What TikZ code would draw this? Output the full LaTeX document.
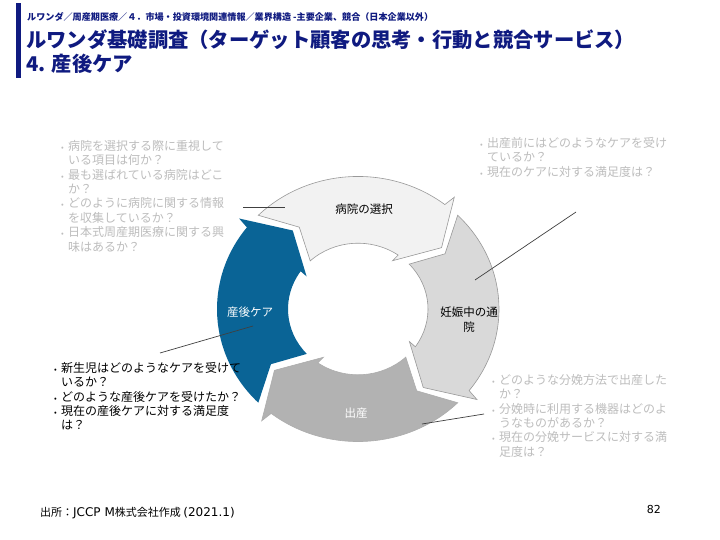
\documentclass[tikz,border=0pt]{standalone}
\usepackage{fontspec}
\setmainfont{Noto Sans CJK JP}
\newfontfamily\jp{Noto Sans CJK JP}
\newfontfamily\lat{DejaVu Sans}
\definecolor{navyt}{HTML}{0F1A80}
\definecolor{lgtxt}{HTML}{BDBDBD}
\definecolor{bluearr}{HTML}{0A6496}
\definecolor{linec}{HTML}{404040}
\newcommand\bl{\makebox[7pt][l]{\fontsize{8}{8}\selectfont •}}
\newcommand\ct{\hspace*{7pt}}
\newcommand\cycarrow[2]{%
  \path[#2] (135+#1:141) arc[start angle=135+#1, end angle=52+#1, radius=141]
    -- (51+#1:153) -- (38+#1:106) -- (56+#1:62) -- (55+#1:70)
    arc[start angle=55+#1, end angle=133+#1, radius=70]
    -- (124+#1:105) -- cycle;}
\tikzset{
  bodytxt/.style={anchor=north west, inner sep=0pt, align=left, font=\jp\fontsize{12}{14.4}\selectfont},
  lbl/.style={inner sep=0pt, align=center, font=\jp\fontsize{11.5}{15}\selectfont},
  conn/.style={draw=linec, line width=0.7pt},
}
\begin{document}
\begin{tikzpicture}[x=1pt,y=-1pt]
\useasboundingbox (0,0) rectangle (720,540);
\fill[white] (0,0) rectangle (720,540);
% header
\fill[navyt] (16,3) rectangle (20.5,78);
\node[anchor=west, inner sep=0pt, text=navyt, font=\jp\bfseries\fontsize{9.1}{10}\selectfont] (hdr) at (27,17)
  {ルワンダ／周産期医療／４．市場・投資環境関連情報／業界構造 -主要企業、競合（日本企業以外）};
\node[anchor=west, inner sep=0pt, text=navyt, font=\jp\bfseries\fontsize{20.3}{22}\selectfont] (title1) at (26,40)
  {ルワンダ基礎調査（ターゲット顧客の思考・行動と競合サービス）};
\node[anchor=west, inner sep=0pt, text=navyt, font=\jp\bfseries\fontsize{20.3}{22}\selectfont] (title2) at (26,64)
  {4. 産後ケア};
% cycle arrows
\begin{scope}[shift={(358,309)}, yscale=-0.94]
  \cycarrow{0}{fill=black!5, draw=black!40, line width=0.6pt}
  \cycarrow{-90}{fill=black!15, draw=black!40, line width=0.6pt}
  \cycarrow{180}{fill=black!30, draw=black!32, line width=0.6pt}
  \cycarrow{90}{fill=bluearr}
\end{scope}
% labels
\node[lbl] (l1) at (364,209) {病院の選択};
\node[lbl] (l2) at (469,320) {妊娠中の通\\院};
\node[lbl, text=white] (l3) at (356,413) {出産};
\node[lbl, text=white] (l4) at (250,312) {産後ケア};
% text blocks
\node[bodytxt, text=lgtxt] (t1) at (61,140) {\bl 病院を選択する際に重視して\\ \ct いる項目は何か？\\ \bl 最も選ばれている病院はどこ\\ \ct か？\\ \bl どのように病院に関する情報\\ \ct を収集しているか？\\ \bl 日本式周産期医療に関する興\\ \ct 味はあるか？};
\node[bodytxt, text=lgtxt] (t2) at (480,137) {\bl 出産前にはどのようなケアを受け\\ \ct ているか？\\ \bl 現在のケアに対する満足度は？};
\node[bodytxt, text=black] (t3) at (54,362) {\bl 新生児はどのようなケアを受けて\\ \ct いるか？\\ \bl どのような産後ケアを受けたか？\\ \bl 現在の産後ケアに対する満足度\\ \ct は？};
\node[bodytxt, text=lgtxt] (t4) at (492,374) {\bl どのような分娩方法で出産した\\ \ct か？\\ \bl 分娩時に利用する機器はどのよ\\ \ct うなものがあるか？\\ \bl 現在の分娩サービスに対する満\\ \ct 足度は？};
% connectors
\coordinate (c1a) at (243,207); \coordinate (c1b) at (285,207);
\coordinate (c2a) at (576,212); \coordinate (c2b) at (475,280);
\coordinate (c3a) at (160,353); \coordinate (c3b) at (253,326);
\coordinate (c4a) at (484,414); \coordinate (c4b) at (422,424);
\draw[conn] (c1a) -- (c1b);
\draw[conn] (c2a) -- (c2b);
\draw[conn] (c3a) -- (c3b);
\draw[conn] (c4a) -- (c4b);
% footer
\node[anchor=west, inner sep=0pt, font=\jp\fontsize{11}{12}\selectfont] (src) at (40,513) {出所：{\lat\fontsize{12}{12}\selectfont JCCP M}株式会社作成 {\lat\fontsize{12}{12}\selectfont (2021.1)}};
\node[anchor=east, inner sep=0pt, font=\lat\fontsize{11}{12}\selectfont] (pg) at (661,509) {82};
\end{tikzpicture}
\end{document}
